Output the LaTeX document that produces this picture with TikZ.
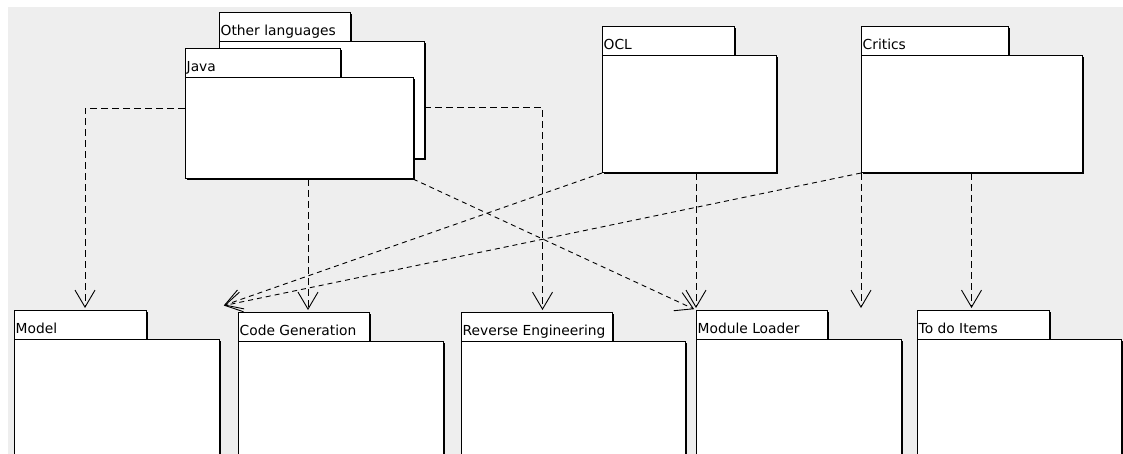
\documentclass[tikz,border=0pt]{standalone}
\usepackage{fontspec}
\setmainfont{DejaVu Sans}
\usepackage{tikz}
\usetikzlibrary{calc,shadows,arrows.meta,positioning}
\usepackage{xcolor}
\definecolor{canvasgray}{RGB}{238,238,238}

% package = tab + body + name in the tab
\newcommand{\umlpkg}[7]{%
    \node[pkgtab, minimum width=#4pt] (#1tab) at (#2,#3) {};
    \node[pkgbody, minimum width=#5pt, minimum height=#6pt] (#1) at (#1tab.south west) {};
    \node[pkglabel] (#1lbl) at ([shift={(1.5,-6)}]#1tab.south west) {#7};
}

\begin{document}
\begin{tikzpicture}[x=1pt, y=-1pt,
    pkgshape/.style={draw, fill=white, line width=1pt, anchor=north west, inner sep=0pt, outer sep=0pt,
        drop shadow={shadow xshift=1.5pt, shadow yshift=-1.5pt, opacity=1, fill=black}},
    pkgtab/.style={pkgshape, minimum height=29pt},
    pkgbody/.style={pkgshape},
    pkglabel/.style={anchor=base west, inner sep=0pt, font=\fontsize{13.8}{15}\selectfont},
    dep/.style={line width=0.9pt, dash pattern=on 7pt off 4pt, shorten >=2pt,
        -{Straight Barb[length=17pt,width=20pt,line width=0.9pt]}},
    diag/.style={dep, dash pattern=on 5pt off 4pt}]

\useasboundingbox (0,0) rectangle (1123,454);
\clip (0,0) rectangle (1123,454);
\fill[canvasgray] (8,7) rectangle (1123,454);

% Top row
\umlpkg{other}{219}{13}{131}{205}{117}{Other languages}
\umlpkg{java}{185}{49}{155}{228}{101}{Java}
\umlpkg{ocl}{602}{27}{132}{174}{117}{OCL}
\umlpkg{critics}{861}{27}{147}{221}{117}{Critics}

% Bottom row
\umlpkg{model}{14}{310}{132}{205}{160}{Model}
\umlpkg{codegen}{238}{312}{131}{205}{160}{Code Generation}
\umlpkg{reveng}{461}{312}{151}{224}{160}{Reverse Engineering}
\umlpkg{modload}{696}{310}{131}{205}{160}{Module Loader}
\umlpkg{todo}{917}{310}{132}{204}{160}{To do Items}

\coordinate (cgtip) at (222,306);

% Java dependencies
\draw[dep] ($(java.north west)!0.3!(java.south west)$) -| ([xshift=5pt]modeltab.north);
\draw[dep] ([xshift=9pt]java.south) -- ([xshift=9pt]java.south |- codegentab.north);
\draw[dep] ($(other.north east)!0.56!(other.south east)$) -| ([xshift=6pt]revengtab.north);
\draw[diag] (java.south east) -- (modloadtab.north west);

% OCL and Critics dependencies
\draw[diag] (ocl.south west) -- (cgtip);
\draw[diag] (critics.south west) -- (cgtip);
\draw[dep] (modloadtab.north west |- ocl.south) -- (modloadtab.north west);
\draw[dep] (critics.south west) -- (critics.south west |- modloadtab.north);
\draw[dep] (critics.south) -- (critics.south |- todotab.north);

\end{tikzpicture}
\end{document}
